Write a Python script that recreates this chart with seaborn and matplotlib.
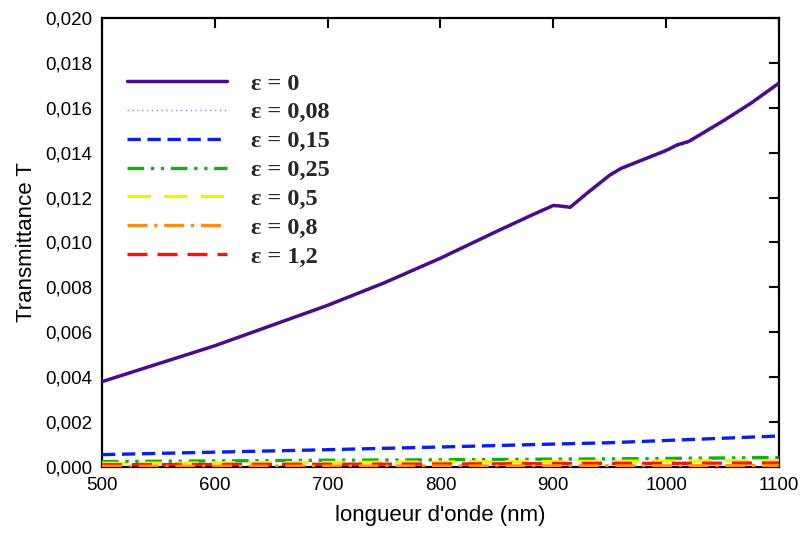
import numpy as np
import pandas as pd
import matplotlib
matplotlib.use("Agg")
import matplotlib.pyplot as plt
import seaborn as sns
from matplotlib.ticker import FuncFormatter, MultipleLocator

sns.set_theme(style="white")
plt.rcParams['font.family'] = ['Liberation Sans', 'DejaVu Sans']

# ---- data ----
wl_main = [500, 550, 600, 650, 700, 750, 800, 850, 880, 900, 905, 915, 930, 950, 960,
           980, 1000, 1010, 1020, 1030, 1050, 1075, 1100]
t_eps0 = [0.0038, 0.0046, 0.0054, 0.0063, 0.0072, 0.0082, 0.0093, 0.0105, 0.0112, 0.01165,
          0.01163, 0.01157, 0.0122, 0.0130, 0.0133, 0.0137, 0.0141, 0.01435, 0.0145, 0.0148,
          0.0154, 0.0162, 0.0171]
t_eps008 = [0.00378, 0.00457, 0.00537, 0.00627, 0.00717, 0.00816, 0.00925, 0.01045, 0.01115, 0.0116,
            0.01158, 0.01152, 0.01214, 0.01294, 0.01324, 0.01364, 0.01403, 0.01428, 0.01443, 0.01473,
            0.01532, 0.01612, 0.01701]
wl = [500, 600, 700, 800, 900, 950, 1000, 1100]
t_eps015 = [0.00055, 0.00066, 0.00077, 0.00089, 0.00102, 0.00108, 0.00118, 0.00138]
t_eps025 = [0.00024, 0.00027, 0.00030, 0.00032, 0.00035, 0.00036, 0.00038, 0.00042]
t_eps05 = [0.00016, 0.00018, 0.00020, 0.00022, 0.00024, 0.00025, 0.00026, 0.00028]
t_eps08 = [0.00003, 0.00003, 0.00004, 0.00004, 0.00005, 0.00005, 0.00005, 0.00006]
t_eps12 = [0.00010, 0.00011, 0.00012, 0.00013, 0.00015, 0.00016, 0.00016, 0.00018]

labels = ["ε = 0", "ε = 0,08", "ε = 0,15", "ε = 0,25", "ε = 0,5", "ε = 0,8", "ε = 1,2"]
xs = [wl_main, wl_main, wl, wl, wl, wl, wl]
ys = [t_eps0, t_eps008, t_eps015, t_eps025, t_eps05, t_eps08, t_eps12]
colors = ["#4B0C8C", "#8C8CE6", "#0A1EF0", "#10B010", "#F5F000", "#FF8C10", "#FF1010"]
dashes = [(None, None), (1, 2.5), (4, 2), (5, 2, 1, 2, 1, 2), (7, 4), (6, 2, 1, 2), (6, 3)]
widths = [2.5, 1.0, 2.4, 2.4, 2.4, 2.4, 2.4]

fig = plt.figure(figsize=(8.01, 5.37), dpi=100)
ax = fig.add_axes([0.1273, 0.1304, 0.8452, 0.8361])

order = [1, 2, 3, 4, 6, 5, 0]
handles = {}
for i in order:
    df = pd.DataFrame({"wl": xs[i], "T": ys[i]})
    sns.lineplot(data=df, x="wl", y="T", ax=ax, color=colors[i], linewidth=widths[i], zorder=3 + (i == 0))
    line = ax.get_lines()[-1]
    if dashes[i][0] is not None:
        line.set_dashes(dashes[i])
    line.set_label(labels[i])
    handles[i] = line

ax.set_xlim(500, 1100)
ax.set_ylim(0, 0.020)
ax.xaxis.set_major_locator(MultipleLocator(100))
ax.yaxis.set_major_locator(MultipleLocator(0.002))
ax.yaxis.set_major_formatter(FuncFormatter(lambda v, p: f"{v:.3f}".replace('.', ',')))
ax.tick_params(direction='in', length=7, width=1.5, top=True, right=True,
               labelsize=13.5, colors='black', pad=7)
for s in ax.spines.values():
    s.set_color('black')
    s.set_linewidth(1.6)
ax.set_xlabel("longueur d'onde (nm)", fontsize=16, color='black', labelpad=8)
ax.set_ylabel("Transmittance T", fontsize=16, color='black', labelpad=6)

leg = ax.legend([handles[i] for i in range(7)], labels, loc='upper left',
                bbox_to_anchor=(0.023, 0.900), borderaxespad=0, frameon=False,
                handlelength=4.1, handletextpad=1.0, labelspacing=0.28,
                prop={'family': 'Liberation Serif', 'weight': 'bold', 'size': 17.5})

fig.savefig("out.png", dpi=100)
